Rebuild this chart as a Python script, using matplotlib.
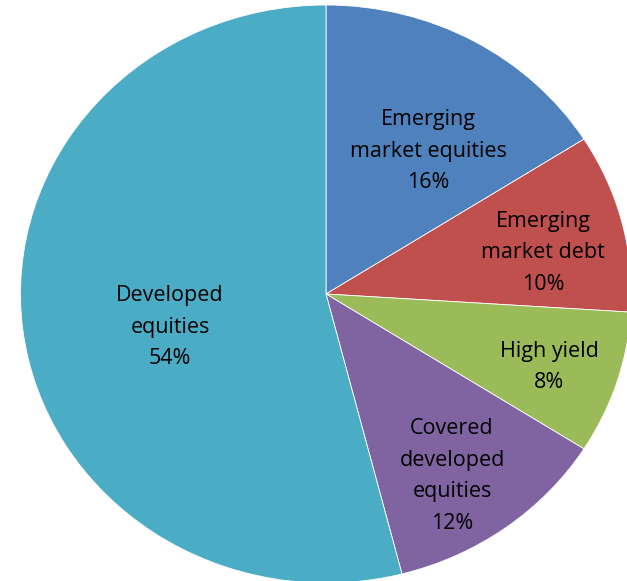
import matplotlib
matplotlib.use("Agg")
import matplotlib.pyplot as plt

# Portfolio allocation
categories = ["Emerging\nmarket equities", "Emerging\nmarket debt", "High yield",
              "Covered\ndeveloped\nequities", "Developed\nequities"]
shares = [16, 10, 8, 12, 54]
colors = ["#4F81BD", "#C0504D", "#9BBB59", "#8064A2", "#4BACC6"]

W, H = 627, 581
fig = plt.figure(figsize=(W / 100, H / 100), dpi=100)
ax = fig.add_axes([0, 0, 1, 1])

wedges, _ = ax.pie(shares, colors=colors, startangle=90, counterclock=False,
                   radius=1.0, center=(0, 0),
                   wedgeprops=dict(edgecolor="white", linewidth=0.6))

# Slightly wider than tall, anchored so the left edge sits near the frame
cx, cy, rx, ry = 326, 294, 305.5, 289
ax.set_aspect("auto")
ax.set_xlim(-cx / rx, (W - cx) / rx)
ax.set_ylim((cy - H) / ry, cy / ry)
ax.axis("off")

def to_data(px, py):
    return (px - cx) / rx, (cy - py) / ry

# Label anchors (pixel space, centre of each text block)
label_pos = [(428, 151), (543, 253), (549, 367), (452, 476), (170, 327)]
for name, val, (px, py) in zip(categories, shares, label_pos):
    x, y = to_data(px, py)
    ax.text(x, y, f"{name}\n{val}%", ha="center", va="center",
            fontsize=15.5, family=["Open Sans", "DejaVu Sans"], color="black",
            linespacing=1.65)

fig.savefig("out.png", dpi=100)
